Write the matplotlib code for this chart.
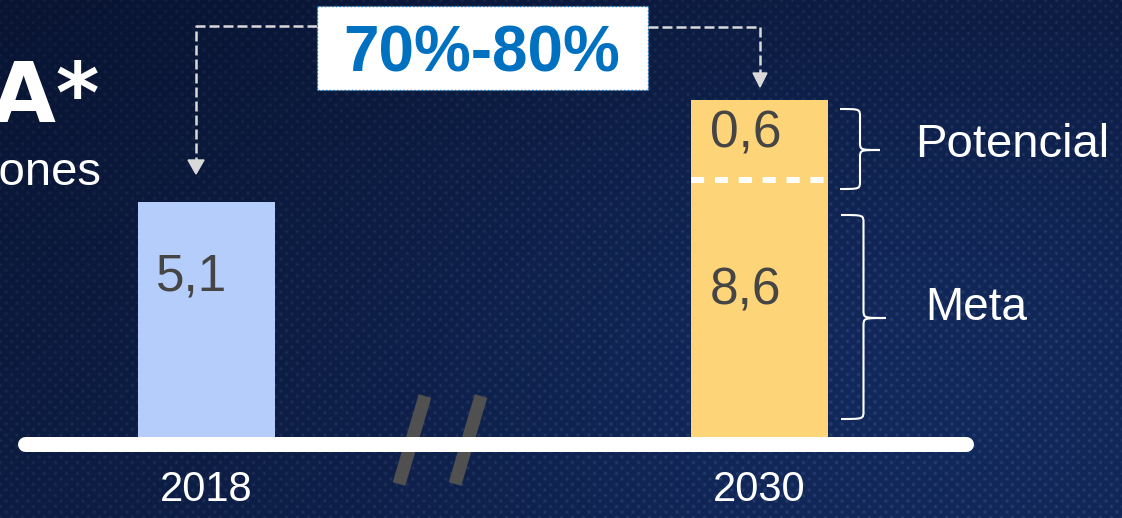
import numpy as np
import matplotlib
matplotlib.use('Agg')
import matplotlib.pyplot as plt
import matplotlib.transforms as mtransforms
from matplotlib.patches import Rectangle, Polygon, PathPatch
from matplotlib.path import Path

# data
years = ['2018', '2030']
meta_values = [5.1, 8.6]
potential_values = [0.0, 0.6]
meta_labels = ['5,1', '8,6']
potential_labels = ['', '0,6']
growth_label = '70%-80%'
title_text = 'EBITDA*'
unit_text = 'millones'
segment_names = ['Meta', 'Potencial']

W, H = 1122, 518
BASE = 437  # bar baseline, px from top

# illustrative, non proportional vertical scale (slide style, broken axis "//")
top_2030 = meta_values[1] + potential_values[1]
scale_vals = [0, meta_values[0], meta_values[1], top_2030, 12.0]
scale_px = [0, 235, 257, 337, BASE]


def forward(v):
    return np.interp(v, scale_vals, scale_px)


def inverse(p):
    return np.interp(p, scale_px, scale_vals)


fig = plt.figure(figsize=(W / 100, H / 100), dpi=100)

# background: dark navy fabric
yy, xx = np.mgrid[0:H, 0:W]
t = np.clip(0.45 * xx / W + 0.55 * yy / H, 0, 1)
t = 0.6 * t + 0.4 * np.exp(-(((xx - 850) / 450) ** 2 + ((yy - 330) / 300) ** 2))
dark = np.array([9, 20, 50]) / 255
light = np.array([19, 44, 98]) / 255
img = dark + (light - dark) * t[..., None]
weave = np.clip(np.cos(2 * np.pi * xx / 11.0) * np.cos(2 * np.pi * yy / 11.0), 0, 1) ** 2
weave2 = np.clip(np.cos(2 * np.pi * (xx + 5.5) / 11.0) * np.cos(2 * np.pi * (yy + 5.5) / 11.0), 0, 1) ** 2
img = img + (0.04 * weave + 0.025 * weave2)[..., None] * (0.6 + t[..., None])
img = np.clip(img, 0, 1)

bg = fig.add_axes([0, 0, 1, 1], zorder=0)
bg.imshow(img, extent=(0, W, H, 0), aspect='auto', interpolation='bilinear')
bg.axis('off')

# bar axes
ax = fig.add_axes([0, (H - BASE) / H, 1, BASE / H], zorder=1)
ax.set_facecolor('none')
ax.set_yscale('function', functions=(forward, inverse))
ax.set_ylim(0, 12.0)
spacing = 759.5 - 206
ax.set_xlim(-206 / spacing, (W - 206) / spacing)
bw = 137 / spacing
x = np.arange(len(years))

blue = '#b5cdfb'
yellow = '#fed479'
ax.bar(x, meta_values, bw, color=[blue, yellow], zorder=2)
ax.bar(x, potential_values, bw, bottom=meta_values, color=yellow, zorder=2)
ax.hlines(meta_values[1], x[1] - bw / 2, x[1] + bw / 2, colors='white',
          linewidth=4.3, linestyles=(0, (2.2, 1.8)), zorder=3)

# value labels, placed in display space
shift = mtransforms.offset_copy(ax.transData, fig=fig, x=-14, y=0, units='dots')


def label_y(b, top, frac):
    pb, pt = forward(b), forward(top)
    return inverse(pb + frac * (pt - pb))


for i in x:
    frac = 0.68 if potential_values[i] == 0 else 0.57
    ax.text(i, label_y(0, meta_values[i], frac), meta_labels[i], transform=shift,
            ha='center', va='center', fontsize=37, color='#454545',
            family='Liberation Sans', zorder=4)
    if potential_values[i] > 0:
        ax.text(i, label_y(meta_values[i], meta_values[i] + potential_values[i], 0.58),
                potential_labels[i], transform=shift, ha='center', va='center',
                fontsize=37, color='#454545', family='Liberation Sans', zorder=4)

ax.set_xticks(x, years)
ax.set_yticks([])
ax.tick_params(axis='x', length=0, pad=24, labelcolor='white', labelsize=30)
for lab in ax.get_xticklabels():
    lab.set_family('Liberation Sans')
for s in ax.spines.values():
    s.set_visible(False)

# overlay in pixel coordinates
ov = fig.add_axes([0, 0, 1, 1], zorder=2)
ov.set_xlim(0, W)
ov.set_ylim(H, 0)
ov.axis('off')

# break marks and axis line
ov.plot([425, 399], [396, 484], color='#505050', lw=9.4, solid_capstyle='butt', zorder=1)
ov.plot([481, 455], [396, 484], color='#505050', lw=9.4, solid_capstyle='butt', zorder=1)
ov.plot([25, 966], [444, 444], color='white', lw=10.8, solid_capstyle='round', zorder=2)

# title pieces (cut at the left edge like the slide)
ov.text(100, 122, title_text, ha='right', va='baseline', fontsize=60,
        fontweight='bold', color='white', family='DejaVu Sans')
ov.text(102, 185, unit_text, ha='right', va='baseline', fontsize=34,
        color='white', family='Liberation Sans')

# growth box with dashed arrows
arrow_c = '#d9d9d9'
dash = (0, (4, 1.6))
ov.plot([317, 196, 196], [26, 26, 160], color=arrow_c, lw=1.8, ls=dash, zorder=1)
ov.add_patch(Polygon([[188, 160], [204, 160], [196, 174]], closed=True, color=arrow_c))
ov.plot([648, 760, 760], [27, 27, 73], color=arrow_c, lw=1.8, ls=dash, zorder=1)
ov.add_patch(Polygon([[753, 73], [767, 73], [760, 87]], closed=True, color=arrow_c))
ov.add_patch(Rectangle((317, 6), 331, 84, facecolor='white', edgecolor='#0070c0',
                       lw=1.0, ls=':', zorder=3))
ov.text(482, 72, growth_label, ha='center', va='baseline', fontsize=46,
        fontweight='bold', color='#0070c0', family='Liberation Sans', zorder=4)


# curly braces
def brace(axx, x0, y1, y2, ym, w, r=8):
    s = x0 + w * 0.5
    tip = x0 + w
    verts = [(x0, y1), (s, y1), (s, y1), (s, y1 + r),
             (s, ym - r),
             (s, ym), (s, ym), (tip, ym),
             (s, ym), (s, ym), (s, ym + r),
             (s, y2 - r),
             (s, y2), (s, y2), (x0, y2)]
    codes = [Path.MOVETO, Path.CURVE4, Path.CURVE4, Path.CURVE4,
             Path.LINETO,
             Path.CURVE4, Path.CURVE4, Path.CURVE4,
             Path.CURVE4, Path.CURVE4, Path.CURVE4,
             Path.LINETO,
             Path.CURVE4, Path.CURVE4, Path.CURVE4]
    axx.add_patch(PathPatch(Path(verts, codes), facecolor='none', edgecolor='white', lw=1.5))


brace(ov, 840, 109, 189, 150, 40)
brace(ov, 841, 215, 419, 318, 45)
ov.text(915, 157, segment_names[1], ha='left', va='baseline', fontsize=34,
        color='white', family='Liberation Sans')
ov.text(925, 320, segment_names[0], ha='left', va='baseline', fontsize=33,
        color='white', family='Liberation Sans')

fig.savefig('out.png', dpi=100)
